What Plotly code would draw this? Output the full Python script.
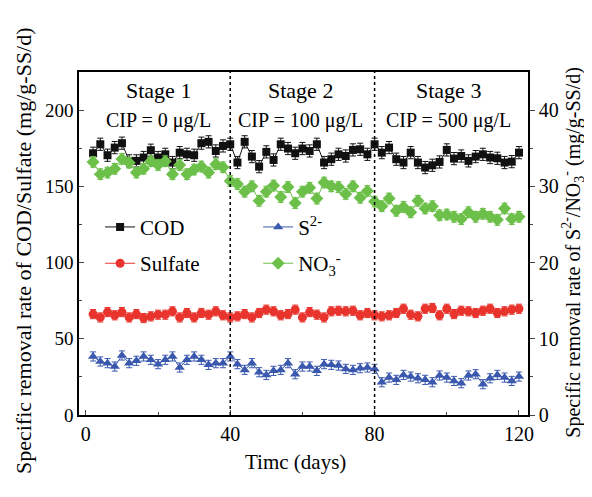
import plotly.graph_objects as go

days = list(range(2, 121, 2))

cod = [171.7, 177.6, 170.4, 175.4, 178.3, 166.7, 166.7, 168.9, 173.7, 168.9,
       171.0, 165.6, 172.1, 171.0, 170.4, 178.3, 179.2, 173.2, 176.5, 177.6,
       165.6, 179.2, 169.5, 162.9, 172.6, 167.3, 177.6, 174.8, 171.7, 174.8,
       173.2, 177.6, 165.6, 167.8, 171.0, 169.9, 173.9, 174.3, 171.0, 177.6,
       172.1, 175.4, 167.8, 165.6, 172.1, 165.6, 162.3, 163.8, 166.0, 173.9,
       168.2, 169.9, 166.7, 169.5, 171.0, 168.9, 168.4, 165.6, 166.2, 172.1]

sulfate = [66.2, 64.0, 67.5, 65.4, 67.5, 64.0, 66.2, 63.6, 64.7, 65.8,
           65.8, 68.0, 64.0, 66.9, 64.0, 66.9, 65.8, 68.0, 65.4, 64.0,
           64.7, 66.2, 64.0, 66.9, 69.1, 68.0, 65.4, 66.2, 69.1, 64.0,
           67.5, 65.8, 64.0, 68.0, 68.4, 68.0, 68.4, 65.4, 66.9, 65.4,
           64.7, 65.4, 66.9, 69.7, 65.8, 64.7, 69.7, 70.2, 65.4, 69.7,
           66.2, 68.4, 68.0, 66.9, 68.4, 69.7, 66.9, 68.0, 69.1, 69.7]

sulfide = [7.68, 7.02, 6.80, 6.36, 7.81, 6.80, 7.11, 7.68, 7.24, 6.67,
           7.24, 7.68, 6.23, 7.24, 7.68, 7.24, 6.58, 6.80, 6.80, 7.68,
           6.67, 5.92, 6.80, 5.61, 5.26, 5.79, 5.92, 6.80, 5.35, 6.36,
           6.36, 5.79, 6.67, 6.58, 6.49, 6.05, 5.92, 6.14, 6.23, 6.05,
           4.30, 4.91, 4.61, 5.26, 5.04, 4.82, 4.61, 4.30, 5.18, 4.91,
           4.47, 4.17, 5.18, 5.35, 4.04, 4.82, 5.26, 4.91, 4.47, 5.04]

nitrate = [33.2, 31.6, 31.8, 32.3, 33.6, 33.1, 31.8, 32.3, 33.3, 32.8,
           33.3, 31.6, 32.8, 31.6, 32.2, 32.6, 31.8, 32.9, 32.5, 30.7,
           30.3, 29.3, 30.0, 28.1, 29.3, 30.1, 28.6, 29.9, 27.8, 29.3,
           29.8, 28.4, 30.5, 30.0, 29.9, 29.0, 30.0, 28.5, 29.4, 28.0,
           27.4, 28.4, 26.8, 27.3, 26.6, 28.1, 27.1, 27.4, 26.2, 26.3,
           26.0, 25.7, 26.6, 26.0, 26.4, 26.0, 25.6, 27.1, 25.7, 26.0]

stage_titles = ["Stage 1", "Stage 2", "Stage 3"]
stage_cip = ["CIP = 0 μg/L", "CIP = 100 μg/L", "CIP = 500 μg/L"]
stage_centers = [20, 59.5, 100.5]
stage_bounds = [40, 80]

FONT = "Liberation Serif"
BLACK = "#111111"
RED = "#e8342c"
BLUE = "#3a58ad"
GREEN = "#6cc04a"

fig = go.Figure()

def add(name, y, color, symbol, size, err, axis, legend):
    fig.add_trace(go.Scatter(
        x=days, y=y, name=name, mode="lines+markers", yaxis=axis,
        legend=legend, legendgroup=name,
        line=dict(color=color, width=1),
        marker=dict(symbol=symbol, size=size, color=color),
        error_y=dict(type="constant", value=err, color=color, thickness=1, width=3),
    ))

add("COD", cod, BLACK, "square", 8, 4.0, "y", "legend")
add("Sulfate", sulfate, RED, "circle", 9, 3.0, "y", "legend")
add("S<sup>2-</sup>", sulfide, BLUE, "triangle-up", 9, 0.6, "y2", "legend2")
add("NO<sub>3</sub><sup>-</sup>", nitrate, GREEN, "diamond", 10, 0.7, "y2", "legend2")

for b in stage_bounds:
    fig.add_shape(type="line", x0=b, x1=b, y0=0, y1=1, xref="x", yref="paper",
                  line=dict(color="black", width=1.5, dash="dot"))

for c, t, s in zip(stage_centers, stage_titles, stage_cip):
    fig.add_annotation(x=c, y=213, xref="x", yref="y", text=t, showarrow=False,
                       font=dict(family=FONT, size=22, color="black"))
    fig.add_annotation(x=c, y=193.5, xref="x", yref="y", text=s, showarrow=False,
                       font=dict(family=FONT, size=20, color="black"))

# axis titles
fig.add_annotation(x=-0.1247, y=0.478, xref="paper", yref="paper", textangle=-90,
                   text="Specific removal rate of COD/Sulfate (mg/g-SS/d)",
                   showarrow=False, xanchor="center", yanchor="middle",
                   font=dict(family=FONT, size=22, color="black"))
fig.add_annotation(x=1.1, y=0.476, xref="paper", yref="paper", textangle=-90,
                   text="Specific removal rate of S<sup>2-</sup>/NO<sub>3</sub><sup>-</sup> (mg/g-SS/d)",
                   showarrow=False, xanchor="center", yanchor="middle",
                   font=dict(family=FONT, size=20, color="black"))
fig.add_annotation(x=0.483, y=-0.138, xref="paper", yref="paper",
                   text="Timc (days)", showarrow=False, xanchor="center", yanchor="middle",
                   font=dict(family=FONT, size=21, color="black"))

legend_common = dict(orientation="v", xanchor="left", yanchor="top",
                     bgcolor="rgba(0,0,0,0)", font=dict(family=FONT, size=21, color="black"),
                     tracegroupgap=6, itemwidth=30)

fig.update_layout(
    width=584, height=481,
    margin=dict(l=71, r=64, t=64, b=73.5),
    paper_bgcolor="white", plot_bgcolor="white",
    font=dict(family=FONT, size=19, color="black"),
    showlegend=True,
    legend=dict(x=0.047, y=0.607, **legend_common),
    legend2=dict(x=0.399, y=0.607, **legend_common),
    xaxis=dict(range=[-1.9, 122.5], tickvals=[0, 40, 80, 120], ticks="inside",
               ticklen=5, showline=True, linecolor="black", linewidth=1.5,
               mirror=True, showgrid=False, zeroline=False,
               minor=dict(tickvals=[20, 60, 100], ticks="inside", ticklen=3),
               tickfont=dict(size=20)),
    yaxis=dict(range=[0, 225], tickvals=[0, 50, 100, 150, 200], ticks="inside",
               ticklen=5, showline=True, linecolor="black", linewidth=1.5,
               showgrid=False, zeroline=False,
               minor=dict(tickvals=[25, 75, 125, 175, 225], ticks="inside", ticklen=3),
               tickfont=dict(size=19)),
    yaxis2=dict(range=[0, 45], tickvals=[0, 10, 20, 30, 40], ticks="outside",
                ticklen=5, overlaying="y", side="right", showline=True,
                linecolor="black", linewidth=1.5, showgrid=False, zeroline=False,
                minor=dict(tickvals=[5, 15, 25, 35], ticks="outside", ticklen=3),
                tickfont=dict(size=20)),
)

fig.write_html("out.html")
